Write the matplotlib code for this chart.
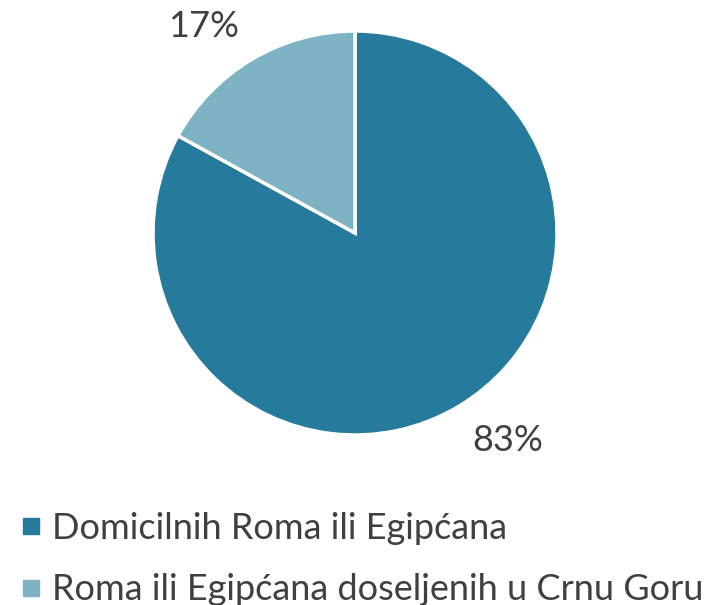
import numpy as np
import matplotlib.pyplot as plt

labels = ["Domicilnih Roma ili Egipćana", "Roma ili Egipćana doseljenih u Crnu Goru"]
shares = [83, 17]
colors = ["#267a9b", "#7eb3c3"]
pct_labels = ["83%", "17%"]

plt.rcParams["font.family"] = ["Lato", "DejaVu Sans"]

fig = plt.figure(figsize=(7.10, 6.05), dpi=100)
W, H = 710, 605
cx, cy, r = 355, 233, 202
ax = fig.add_axes([(cx - r) / W, (H - cy - r) / H, 2 * r / W, 2 * r / H])

wedges, _ = ax.pie(shares, colors=colors, startangle=90, counterclock=False,
                   wedgeprops=dict(edgecolor="white", linewidth=2.5))
ax.set_xlim(-1, 1)
ax.set_ylim(-1, 1)
ax.set_aspect("equal")
ax.axis("off")

# data labels, placed outside the wedges like Excel's best fit
offsets = [(0.757, -1.025), (-0.752, 1.02)]
for (x, y), t in zip(offsets, pct_labels):
    ax.text(x, y, t, ha="center", va="center", fontsize=26, color="#404040",
            clip_on=False)

handles = [plt.Line2D([], [], marker="s", linestyle="", markersize=11.5,
                      markerfacecolor=c, markeredgecolor=c) for c in colors]
fig.legend(handles, labels, loc="upper left", bbox_to_anchor=(0.028, 0.154),
           frameon=False, fontsize=26, labelcolor="#404040",
           handletextpad=0.28, handlelength=0.6, labelspacing=0.79,
           borderaxespad=0, borderpad=0)

fig.savefig("out.png", dpi=100)
